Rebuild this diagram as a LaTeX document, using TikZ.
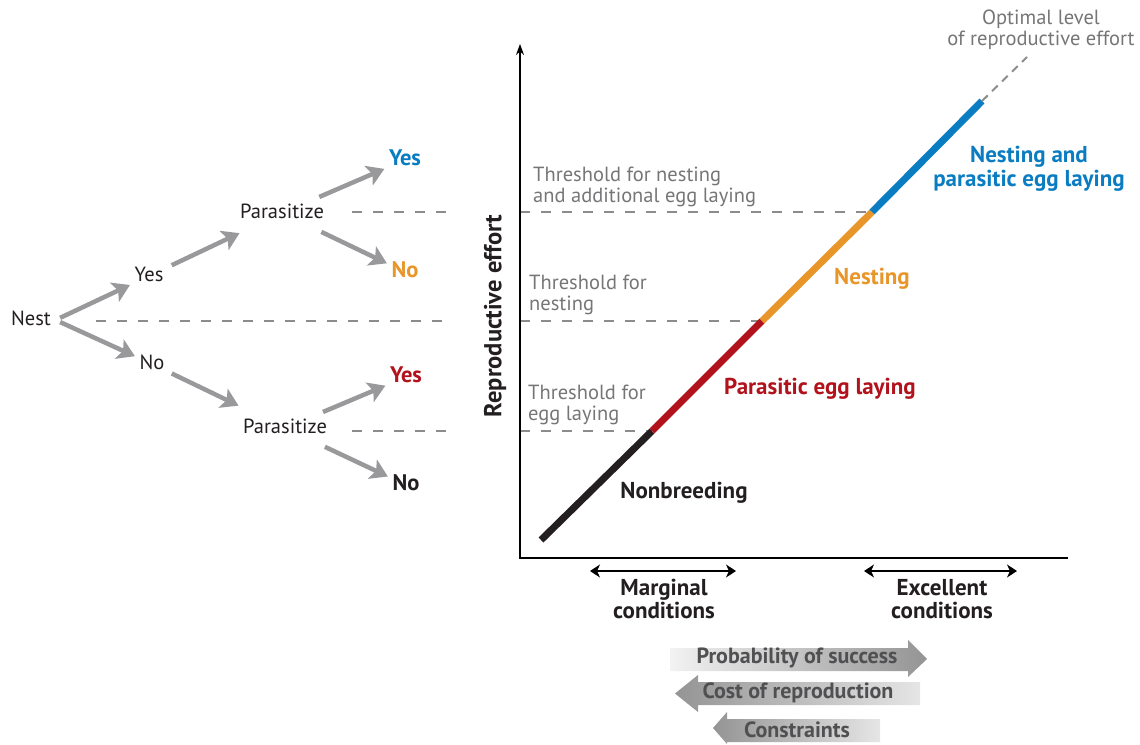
\documentclass[tikz,border=0pt]{standalone}
\usepackage{fontspec}
\setmainfont{PT Sans}
\usetikzlibrary{arrows.meta}

\definecolor{treegray}{RGB}{153,153,156}
\definecolor{dashgray}{RGB}{140,140,140}
\definecolor{labelgray}{RGB}{118,118,120}
\definecolor{boxtext}{RGB}{80,80,82}
\definecolor{nblue}{RGB}{10,124,194}
\definecolor{norange}{RGB}{232,150,42}
\definecolor{nred}{RGB}{178,18,27}
\definecolor{nblack}{RGB}{35,31,32}

\begin{document}
\begin{tikzpicture}[x=1pt,y=-1pt,font=\fontsize{20.5}{21.5}\selectfont,
  word/.style={text height=14pt,text depth=4pt,inner sep=4.5pt,text=nblack},
  outcome/.style={word,font=\fontsize{22.5}{24}\selectfont\bfseries},
  treearrow/.style={draw=treegray,line width=4.5pt,-{Stealth[length=17pt,width=21pt,inset=4pt]}},
  thresh/.style={draw=dashgray,line width=1.8pt,dash pattern=on 10pt off 11pt},
  note/.style={text=labelgray,align=left,anchor=west,inner sep=0pt},
  phase/.style={font=\fontsize{23}{23.5}\selectfont\bfseries,align=center,inner sep=0pt},
  effort/.style={line width=7pt},
  boxlabel/.style={font=\fontsize{22}{22}\selectfont\bfseries,text=boxtext,inner sep=0pt}]
\useasboundingbox (0,0) rectangle (1140,744);

%Coordinates of the effort line
\coordinate (e0) at (541,540);
\coordinate (e1) at (652,431);
\coordinate (e2) at (762,321);
\coordinate (e3) at (872,212);
\coordinate (e4) at (982,101);
\coordinate (e5) at (1027,57);

% Text Node
\draw (31,320) node [word] (nest) {Nest};
% Text Node
\draw (149,276) node [word] (yesA) {Yes};
% Text Node
\draw (152,364) node [word] (noA) {No};
% Text Node
\draw (282,213) node [word] (parTop) {Parasitize};
% Text Node
\draw (285,428) node [word] (parBot) {Parasitize};
% Text Node
\draw (405,160) node [outcome,text=nblue] (yesB) {Yes};
% Text Node
\draw (405,272) node [outcome,text=norange] (noB) {No};
% Text Node
\draw (406,377) node [outcome,text=nred] (yesC) {Yes};
% Text Node
\draw (406,485) node [outcome,text=nblack] (noC) {No};

%Straight Lines
\draw [treearrow,shorten <=5pt] (nest.east) -- (yesA);
\draw [treearrow,shorten <=5pt] (nest.east) -- (noA);
\draw [treearrow,shorten <=4pt,shorten >=15pt] (yesA) -- (parTop);
\draw [treearrow,shorten <=3pt,shorten >=20pt] (noA) -- (parBot);
\draw [treearrow,shorten <=6pt] (parTop) -- (yesB);
\draw [treearrow,shorten <=12pt] (parTop) -- (noB);
\draw [treearrow,shorten <=6pt] (parBot) -- (yesC);
\draw [treearrow,shorten <=12pt] (parBot) -- (noC);

%Dashed Lines
\draw [thresh] (352,212) -- (448,212);
\draw [thresh] (96,321) -- (448,321);
\draw [thresh] (352,431) -- (448,431);
\draw [thresh] (520,212) -- (e3);
\draw [thresh] (520,321) -- (e2);
\draw [thresh] (520,431) -- (e1);

%Axes
\draw [line width=1.4pt,-{Stealth[length=11pt,width=8pt]}] (1068,558) -- (520,558) -- (520,44);

%Effort line
\draw [effort,nblack] (e0) -- (e1);
\draw [effort,nred] (e1) -- (e2);
\draw [effort,norange] (e2) -- (e3);
\draw [effort,nblue] (e3) -- (e4);
\draw [thresh,line width=2pt,dash pattern=on 8pt off 6pt] (e4) -- (e5);

% Text Node
\draw (495,316) node [rotate=90,font=\fontsize{24.5}{24}\selectfont\bfseries,text=nblack] (yaxis) {Reproductive effort};
% Text Node
\draw (533,187) node [note] (thrBoth) {Threshold for nesting\\and additional egg laying};
% Text Node
\draw (529,295) node [note] (thrNest) {Threshold for\\nesting};
% Text Node
\draw (528,405) node [note] (thrEgg) {Threshold for\\egg laying};
% Text Node
\draw (1041,30) node [text=labelgray,align=center,inner sep=0pt] (optimal) {Optimal level\\of reproductive effort};
% Text Node
\draw (684,493) node [phase,text=nblack] (nonbreed) {Nonbreeding};
% Text Node
\draw (820,389) node [phase,text=nred] (parasitic) {Parasitic egg laying};
% Text Node
\draw (872,279) node [phase,text=norange] (nesting) {Nesting};
% Text Node
\draw (1029,169) node [phase,text=nblue] (both) {Nesting and\\parasitic egg laying};

%Condition ranges
\draw [line width=1.1pt,{Stealth[length=10pt,width=13pt,inset=3pt]}-{Stealth[length=10pt,width=13pt,inset=3pt]}] (590,571) -- (736,571);
\draw [line width=1.1pt,{Stealth[length=10pt,width=13pt,inset=3pt]}-{Stealth[length=10pt,width=13pt,inset=3pt]}] (864,571) -- (1017,571);
% Text Node
\draw (664,599) node [phase,text=nblack] (marginal) {Marginal\\conditions};
% Text Node
\draw (942,599) node [phase,text=nblack] (excellent) {Excellent\\conditions};

%Shaded arrows
\shade [left color=black!5,right color=black!42] (670,648) -- (908,648) -- (908,640) -- (927,659) -- (908,677) -- (908,671) -- (670,671) -- cycle;
\shade [left color=black!42,right color=black!10] (920,682) -- (698,682) -- (698,675) -- (675,693.5) -- (698,712) -- (698,705) -- (920,705) -- cycle;
\shade [left color=black!42,right color=black!10] (880,719) -- (727,719) -- (727,712) -- (713,728) -- (727,744) -- (727,742) -- (880,742) -- cycle;
% Text Node
\draw (797,658) node [boxlabel] (success) {Probability of success};
% Text Node
\draw (798,693) node [boxlabel] (cost) {Cost of reproduction};
% Text Node
\draw (797,730) node [boxlabel] (constr) {Constraints};

\end{tikzpicture}
\end{document}
